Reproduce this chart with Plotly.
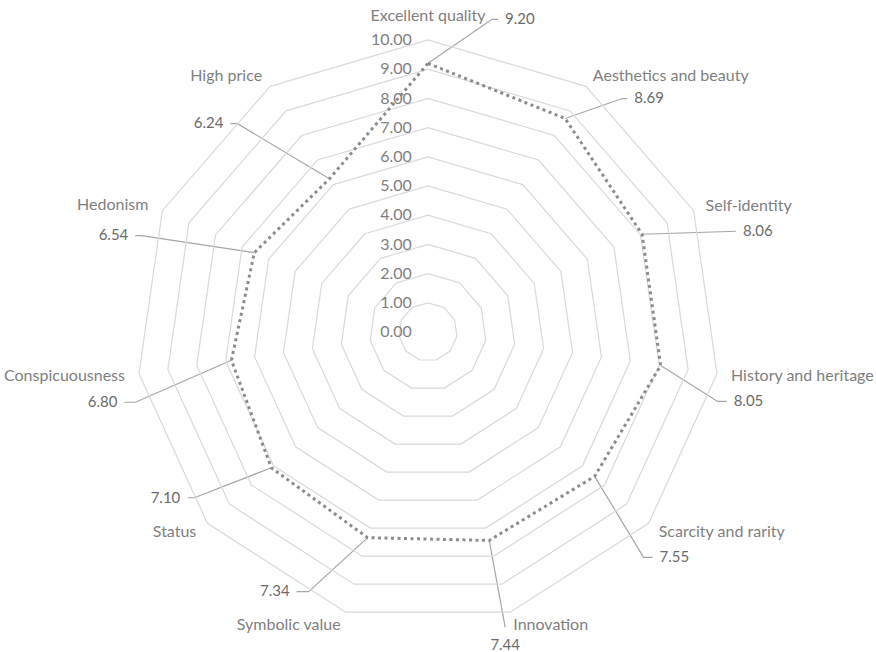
import math
import plotly.graph_objects as go

# ---------------- data ----------------
categories = ["Excellent quality", "Aesthetics and beauty", "Self-identity",
              "History and heritage", "Scarcity and rarity", "Innovation",
              "Symbolic value", "Status", "Conspicuousness", "Hedonism", "High price"]
values = [9.20, 8.69, 8.06, 8.05, 7.55, 7.44, 7.34, 7.10, 6.80, 6.54, 6.24]
radial_tickvals = [0, 1, 2, 3, 4, 5, 6, 7, 8, 9, 10]

# ---------------- layout geometry / styles ----------------
W, H = 876, 652
CX, CY, R = 428, 332, 292
RMAX = 10
PX = R / RMAX
FONT = "Lato"
TXT = "#7f7f7f"
VAL_TXT = "#6b6b6b"
GRID = "#d9d9d9"

# leader-line elbow offsets from each point (px, +x right, +y down), tail lengths
label_offsets = [(64, -44), (57, -20), (88, -3), (57, 36), (49, 81), (16, 87),
                 (-59, 54), (-77, 30), (-96, 42), (-113, -17), (-92, -55)]
label_tails = [6, 5, 6, 9, 9, 0, 12, 7, 11, 6, 7]
GAP = 7
BELOW_GAP = 11

# category label anchor offsets from each outer vertex (px) and text anchoring
cat_offsets = [(0, -23), (7, -9), (12, -4), (14, 3), (10, 10), (3, 14),
               (-5, 14), (-11, 10), (-14, 3), (-14, -5), (-8, -9)]
cat_positions = ["middle center", "middle right", "middle right", "middle right",
                 "middle right", "middle right", "middle left", "middle left",
                 "middle left", "middle left", "middle left"]

n = len(categories)
step = 360.0 / n

fig = go.Figure()

# invisible cartesian overlay whose units equal the radial units (origin = polar centre)
for i, v in enumerate(values):
    a = math.radians(i * step)
    x0, y0 = v * math.sin(a), v * math.cos(a)
    dx, dy = label_offsets[i]
    ex, ey = x0 + dx / PX, y0 - dy / PX
    xs, ys = [x0, ex], [y0, ey]
    if label_tails[i] == 0:
        pos = "bottom center"
        tx, ty = ex, ey - BELOW_GAP / PX
    else:
        sgn = 1 if dx > 0 else -1
        xs.append(ex + sgn * label_tails[i] / PX)
        ys.append(ey)
        tx, ty = ex + sgn * (label_tails[i] + GAP) / PX, ey - 1 / PX
        pos = "middle right" if dx > 0 else "middle left"
    fig.add_trace(go.Scatter(x=xs, y=ys, mode="lines",
                             line=dict(color="#a6a6a6", width=1.2),
                             hoverinfo="skip", showlegend=False, cliponaxis=False))
    fig.add_trace(go.Scatter(x=[tx], y=[ty], mode="text", text=[f"{v:.2f}"],
                             textposition=pos,
                             textfont=dict(family=FONT, size=15, color=VAL_TXT),
                             hoverinfo="skip", showlegend=False, cliponaxis=False))

# category labels around the outer ring
for i, c in enumerate(categories):
    a = math.radians(i * step)
    vx, vy = RMAX * math.sin(a), RMAX * math.cos(a)
    ox, oy = cat_offsets[i]
    fig.add_trace(go.Scatter(x=[vx + ox / PX], y=[vy - oy / PX], mode="text",
                             text=[c], textposition=cat_positions[i],
                             textfont=dict(family=FONT, size=16, color=TXT),
                             hoverinfo="skip", showlegend=False, cliponaxis=False))

fig.add_trace(go.Scatterpolar(
    r=values + values[:1], theta=categories + categories[:1], mode="lines",
    line=dict(color="#8c8c8c", width=3, dash="3px,3.5px"),
    hoverinfo="skip", showlegend=False, cliponaxis=False))

fig.update_layout(
    width=W, height=H,
    margin=dict(l=0, r=0, t=0, b=0),
    paper_bgcolor="white", plot_bgcolor="rgba(0,0,0,0)",
    showlegend=False,
    xaxis=dict(domain=[0, 1], range=[-CX / PX, (W - CX) / PX], visible=False,
               fixedrange=True),
    yaxis=dict(domain=[0, 1], range=[-(H - CY) / PX, CY / PX], visible=False,
               fixedrange=True),
    polar=dict(
        domain=dict(x=[(CX - R) / W, (CX + R) / W],
                    y=[1 - (CY + R) / H, 1 - (CY - R) / H]),
        bgcolor="rgba(0,0,0,0)",
        gridshape="linear",
        radialaxis=dict(range=[0, RMAX], tickvals=radial_tickvals, tickformat=".2f",
                        angle=90, tickangle=90, side="counterclockwise",
                        showline=False, showgrid=True, gridcolor=GRID, gridwidth=1.2,
                        ticks="outside", ticklen=10, tickcolor="rgba(0,0,0,0)",
                        tickfont=dict(family=FONT, size=16, color=TXT)),
        angularaxis=dict(type="category", rotation=90, direction="clockwise",
                         categoryarray=categories, showticklabels=False,
                         showgrid=False, showline=True, linecolor=GRID, linewidth=1.2,
                         ticks=""),
    ),
)

# remove the default page margin so the 876x652 figure fills the window exactly
fig.write_html("out.html",
               config={"displayModeBar": False, "staticPlot": True},
               post_script="document.body.style.margin='0';"
                           "document.body.style.overflow='hidden';")
